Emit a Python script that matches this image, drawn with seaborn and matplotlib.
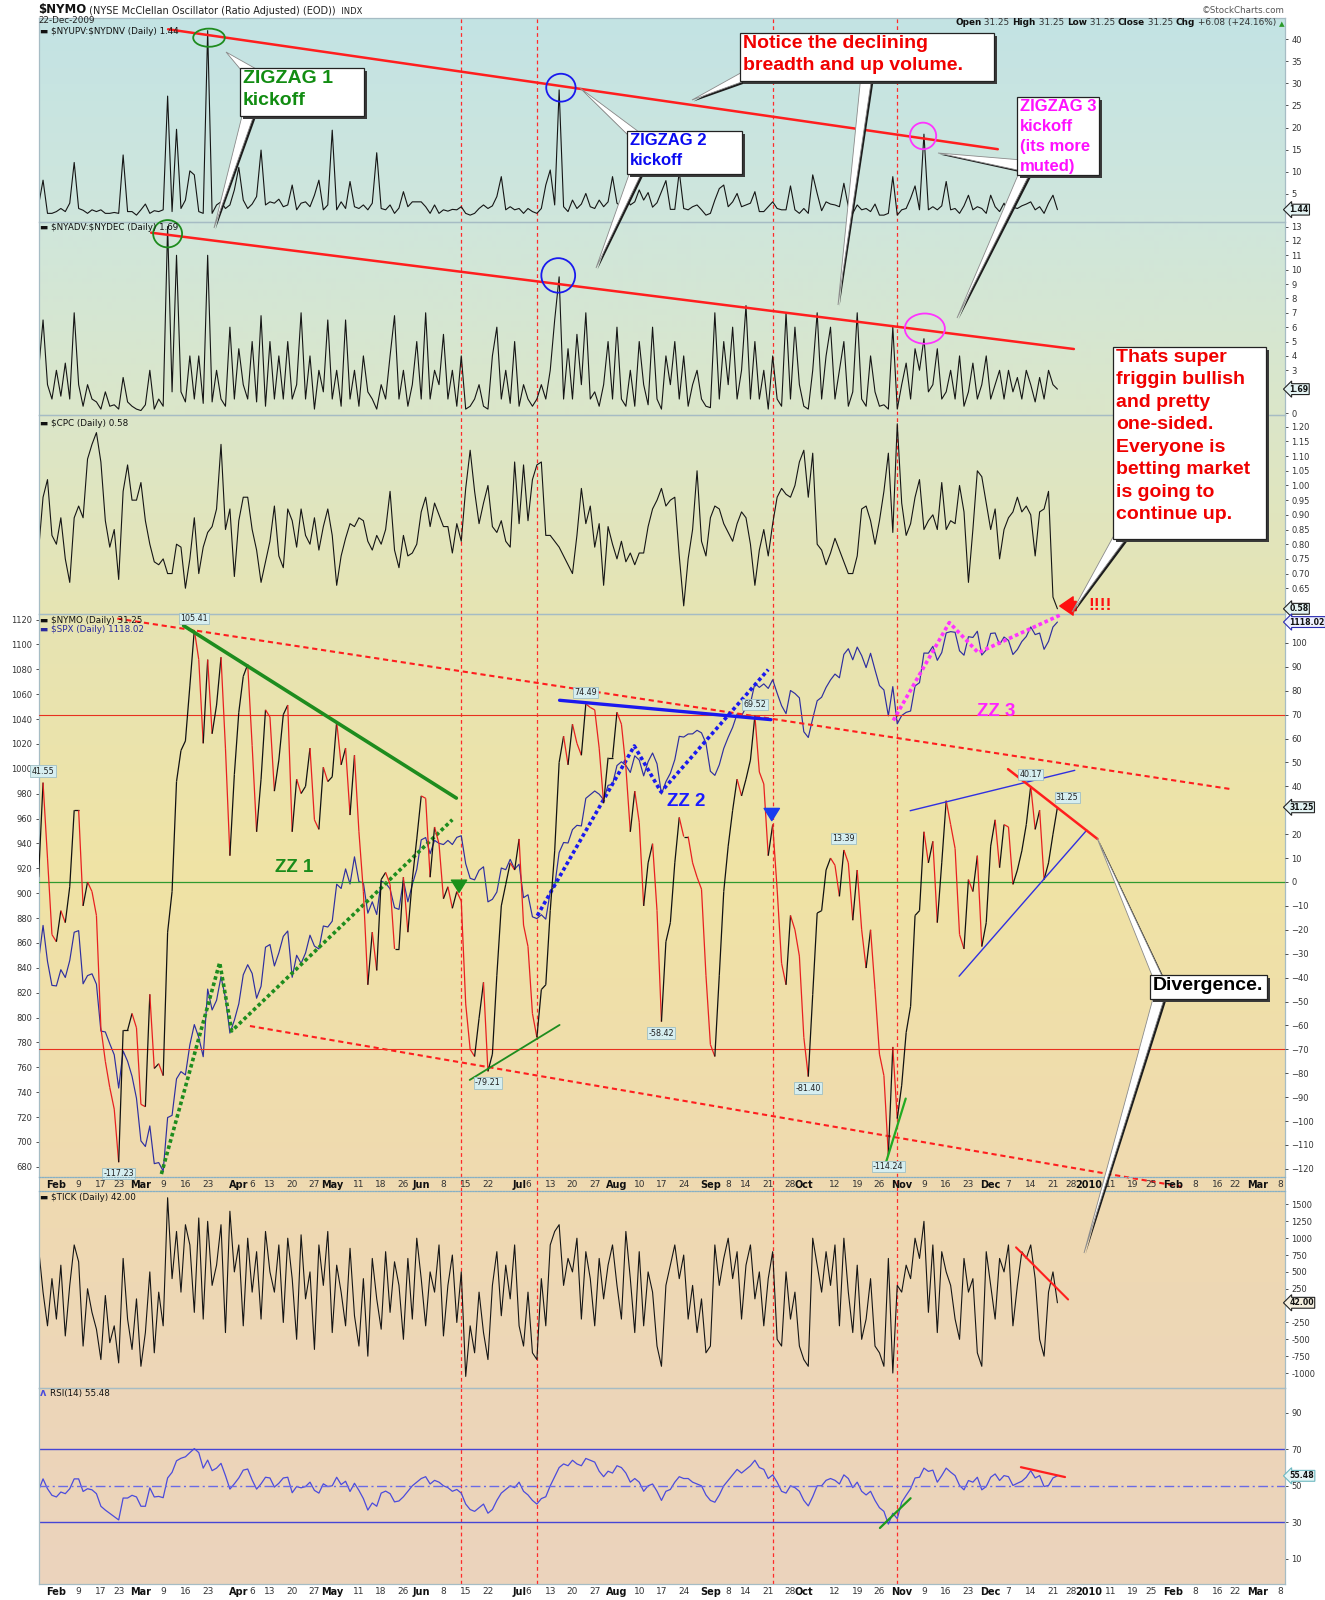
import numpy as np
import pandas as pd
import matplotlib
matplotlib.use("Agg")
import matplotlib.pyplot as plt
import seaborn as sns
from matplotlib.collections import LineCollection
from matplotlib.patches import Ellipse, Polygon, Rectangle
from matplotlib.colors import to_rgb

sns.set_style("white")
plt.rcParams["font.family"] = ["DejaVu Sans"]
plt.rcParams["text.parse_math"] = False

# ---------------- data (daily, 27-Jan-2009 .. 22-Dec-2009) ----------------
start_date = "2009-01-27"
holidays = ["2009-01-19", "2009-02-16", "2009-04-10", "2009-05-25", "2009-07-03",
            "2009-09-07", "2009-11-26", "2009-12-25", "2010-01-01", "2010-01-18",
            "2010-02-15"]

up_dn = [2.5, 8.1, 0.6, 0.6, 1.0, 1.7, 1.0, 2.9, 12.1, 1.7, 1.3,
         0.6, 1.4, 1.0, 1.4, 0.6, 0.6, 0.8, 0.6, 13.8, 1.0,
         1.0, 0.2, 1.4, 2.7, 0.6, 1.2, 1.0, 1.4, 27.1, 1.0,
         19.6, 1.7, 3.6, 10.2, 9.3, 1.0, 0.6, 41.9, 0.6, 2.5,
         3.2, 1.7, 2.5, 5.9, 11.0, 3.6, 1.7, 2.7, 4.4, 14.9,
         2.5, 3.2, 2.9, 3.8, 2.1, 2.5, 7.0, 1.4, 2.9, 3.2,
         2.1, 4.7, 8.1, 1.4, 2.5, 19.4, 1.4, 3.2, 1.7, 7.8,
         2.1, 1.7, 2.5, 1.4, 2.9, 14.3, 1.7, 1.4, 2.5, 0.6, 1.8,
         5.5, 2.1, 3.2, 3.2, 3.2, 2.1, 0.6, 2.5, 0.6, 1.4,
         1.1, 1.5, 1.4, 2.1, 0.6, 0.2, 0.6, 1.7, 2.5, 1.7,
         2.3, 4.4, 8.9, 1.4, 2.1, 1.4, 1.7, 0.6, 1.7, 1.0,
         0.6, 1.7, 7.0, 10.4, 2.5, 28.5, 2.1, 1.0, 3.6, 1.7,
         2.7, 5.1, 2.1, 1.7, 3.6, 2.1, 3.2, 8.9, 2.9, 2.1,
         4.4, 2.5, 3.2, 5.9, 3.6, 5.3, 2.0, 3.0,
         5.5, 8.0, 1.5, 1.5, 10.0, 1.7, 1.4, 2.1, 2.5, 1.4,
         0.2, 0.6, 3.6, 6.2, 7.0, 2.1, 3.2, 5.1, 2.1, 2.5,
         2.9, 5.5, 1.0, 1.0, 2.1, 3.2, 1.7, 1.4, 1.4, 6.8,
         1.4, 0.6, 1.7, 0.6, 9.3, 5.1, 1.2, 3.2, 2.7, 2.5,
         2.1, 7.4, 2.1, 0.6, 2.5, 1.4, 1.7, 1.0, 2.7, 0.2,
         0.2, 0.6, 8.9, 0.2, 1.4, 1.7, 4.0, 6.8, 1.4, 18.5,
         1.4, 2.1, 1.4, 2.3, 7.8, 1.4, 1.7, 0.6, 2.3, 4.7,
         1.4, 2.1, 1.7, 0.6, 4.7, 2.1, 1.0, 2.9, 0.6, 2.0,
         1.7, 2.3, 2.7, 3.2, 1.4, 2.1, 0.6, 2.9, 4.7, 1.44]

adv_dec = [3, 6.5, 2, 1, 3, 1.2, 3.5, 1, 7, 2,
           0.5, 2, 1, 0.8, 0.3, 1.5, 0.5, 0.6, 0.3, 2.5,
           0.8, 0.5, 0.3, 0.2, 0.6, 3, 0.3, 1, 0.5, 13,
           1.5, 11, 1.5, 0.8, 4, 1, 4, 0.7, 11, 0.8,
           3, 1, 0.5, 6, 1, 4.5, 2, 1, 5, 0.8,
           6.8, 0.5, 5, 1, 4, 1, 5, 1, 2, 7,
           1, 4, 0.3, 3, 1.5, 6.5, 1, 3, 0.5, 6.5,
           1, 3, 0.5, 4, 1.5, 1, 0.3, 2, 1, 4,
           6.8, 1, 3, 0.5, 2, 5, 1, 7, 1, 3,
           2, 5.5, 1, 3, 0.5, 4, 0.3, 0.5, 1, 2,
           0.5, 0.3, 4, 6, 1, 3, 0.7, 5, 0.5, 2,
           1, 0.5, 1, 2, 1, 3, 6.5, 9.5, 1, 4.5,
           1, 5.5, 2, 7, 1, 1.5, 0.5, 2, 5, 1,
           6, 1, 0.5, 3, 0.5, 5, 2, 0.6, 6, 1,
           0.3, 4, 2, 5, 1, 4, 0.5, 2, 3, 1,
           0.5, 0.4, 7, 1, 5, 2, 6, 1, 3, 7.5,
           1, 5, 1, 3, 0.3, 4, 1, 0.5, 7, 1,
           6, 2, 0.5, 0.3, 3, 7, 1, 4, 6, 1,
           3, 5, 0.5, 1.5, 7, 1, 0.5, 4, 1.5, 0.5,
           0.6, 0.3, 6, 0.3, 2, 3.5, 1, 4.5, 3, 5.2,
           1.5, 2, 4.5, 1, 1.5, 3, 1, 4, 0.5, 1.5,
           3.5, 1, 2, 4, 1, 2, 3, 1, 3, 1.5,
           2.5, 1, 3, 2, 0.8, 2.5, 1, 3, 2, 1.69]

cpc = [0.78, 0.96, 1.02, 0.83, 0.80, 0.89, 0.75, 0.67, 0.89, 0.93, 0.89, 1.09, 1.14,
       1.18, 1.08, 0.88, 0.79, 0.85, 0.68, 0.98, 1.07, 0.95, 0.95, 1.01, 0.88, 0.80,
       0.74, 0.73, 0.75, 0.70, 0.70, 0.80, 0.79, 0.65, 0.75, 0.89, 0.70, 0.79, 0.84,
       0.86, 0.92, 1.14, 0.85, 0.92, 0.69, 0.88, 0.96, 0.96, 0.85, 0.78, 0.67, 0.74,
       0.81, 0.93, 0.76, 0.72, 0.92, 0.88, 0.79, 0.92, 0.83, 0.80, 0.89, 0.78, 0.86,
       0.92, 0.83, 0.66, 0.76, 0.82, 0.87, 0.86, 0.89, 0.88, 0.81, 0.78, 0.83, 0.80,
       0.85, 0.98, 0.78, 0.72, 0.83, 0.76, 0.77, 0.80, 0.91, 0.96, 0.86, 0.94, 0.90,
       0.86, 0.86, 0.77, 0.87, 0.81, 0.99, 1.12, 0.98, 0.87, 0.94, 1.00, 0.86, 0.84,
       0.88, 0.81, 0.79, 1.08, 0.87, 1.07, 0.88, 1.02, 1.07, 1.08, 0.83, 0.83, 0.81,
       0.79, 0.76, 0.73, 0.70, 0.83, 0.99, 0.87, 0.93, 0.79, 0.87, 0.66, 0.86, 0.80,
       0.75, 0.81, 0.74, 0.77, 0.73, 0.77, 0.77, 0.86, 0.92, 0.95, 0.99, 0.93, 0.95,
       0.96, 0.76, 0.59, 0.75, 0.85, 1.05, 0.81, 0.76, 0.89, 0.93, 0.92, 0.87, 0.84,
       0.81, 0.87, 0.91, 0.89, 0.80, 0.66, 0.78, 0.85, 0.76, 0.87, 0.96, 0.99, 0.97,
       0.96, 1.00, 1.08, 1.12, 0.96, 1.11, 0.80, 0.78, 0.73, 0.77, 0.82, 0.78, 0.74,
       0.70, 0.70, 0.76, 0.92, 0.93, 0.88, 0.80, 0.88, 0.98, 1.11, 0.84,
       1.21, 0.94, 0.83, 0.87, 0.96, 1.02, 0.85, 0.88,
       0.90, 0.85, 1.01, 0.85, 0.88, 0.87, 1.00, 0.91, 0.67, 0.85, 1.05, 1.03, 0.94,
       0.85, 0.92, 0.75, 0.85, 0.89, 0.91, 0.96, 0.91, 0.93,
       0.90, 0.76, 0.91, 0.92, 0.98, 0.62, 0.58]

spx = [845.71, 874.09, 845.14, 825.88,
       825.44, 838.51, 832.23, 845.85, 868.60, 869.89, 827.16, 833.74, 835.19, 826.84,
       789.17, 788.42, 778.94, 770.05, 743.33, 773.14, 764.90, 752.83, 735.09,
       700.82, 696.33, 712.87, 682.55, 683.38, 676.53, 719.60, 721.36, 750.74, 756.55,
       753.89, 778.12, 794.35, 784.04, 768.54, 822.92, 806.12, 813.88, 832.86, 815.94,
       787.53, 797.87,
       811.08, 834.38, 842.50, 835.48, 815.55, 825.16, 856.56, 858.73, 841.50, 852.06,
       865.30, 869.60, 832.39, 850.08, 843.55, 851.92, 866.23, 857.51, 855.16, 873.64, 872.81,
       877.52, 907.24, 903.80, 919.53, 907.39, 929.23, 909.24, 908.35, 883.92, 893.07,
       882.88, 909.71, 908.13, 903.47, 888.33, 887.00, 910.33, 893.06, 906.83, 919.14,
       942.87, 944.74, 931.76, 942.46, 940.09, 939.14, 942.43, 939.15, 944.89, 946.21,
       923.72, 911.97, 910.71, 918.37, 921.23, 893.04, 895.10, 900.94, 920.26, 918.90,
       927.23, 919.32,
       923.33, 896.42, 898.72, 881.03, 879.56, 882.68, 879.13, 901.05, 905.84, 932.68,
       940.74, 940.38, 951.13, 954.58, 954.07, 976.29, 979.26, 982.18, 979.62, 975.15,
       986.75, 987.48,
       1002.63, 1005.65, 1002.72, 997.08, 1010.48, 1007.10, 994.35, 1005.81, 1012.73, 1004.09,
       979.73, 989.67, 996.46, 1007.37, 1026.13, 1025.57, 1028.00, 1028.12, 1030.98, 1028.93,
       1020.62,
       998.04, 994.75, 1003.24, 1016.40, 1025.39, 1033.37, 1044.14, 1042.73, 1049.34, 1052.63,
       1068.76, 1065.49, 1068.30, 1064.66, 1071.66, 1060.87, 1050.78, 1044.38, 1062.98, 1060.61,
       1057.08,
       1029.85, 1025.21, 1040.46, 1054.72, 1057.58, 1065.48, 1071.49, 1076.19, 1073.19, 1092.02,
       1096.56, 1087.68, 1097.91, 1091.06, 1081.40, 1092.91, 1079.60, 1066.95, 1063.41, 1042.63,
       1066.11, 1036.19,
       1042.88, 1045.41, 1046.50, 1066.63, 1069.30, 1093.08, 1093.01, 1098.51, 1087.24, 1093.48,
       1109.30, 1110.32, 1109.80, 1094.90, 1091.38, 1106.24, 1105.65, 1110.63, 1091.49, 1095.63,
       1108.86, 1109.24, 1099.92, 1105.98, 1103.25, 1091.94, 1095.95, 1102.35, 1106.41, 1114.11,
       1107.93, 1109.18, 1096.08, 1102.47, 1114.05, 1118.02]

nymo = [2, 41.55, 10, -22, -25, -12, -17, -2, 30, 30,
        -10, 0, -4, -14, -61, -75, -86, -95, -117.23, -62,
        -62, -55, -61, -93, -94, -47, -78, -76, -81, -21,
        -4, 42, 55, 59, 82, 105.41, 93, 58, 93, 62,
        74, 94, 56, 11, 45, 71, 86, 91, 57, 21,
        43, 72, 69, 38, 51, 70, 74, 21, 43, 37,
        40, 56, 26, 22, 48, 42, 44, 67, 49, 56,
        28, 53, 21, -4, -43, -21, -37, 1, 4, -1,
        -28, -28, 2, -21, 1, 18, 36, 35, 2, 23,
        16, -7, -2, -11, -4, -8, -51, -70, -73, -57,
        -42, -79.21, -72, -39, -10, -1, 8, 5, 18, -18,
        -27, -55, -65, -45, -43, -12, 13, 50, 61, 49,
        66, 58, 53, 74.49, 73, 72, 56, 33, 52, 52,
        71, 66, 48, 21, 38, 25, -10, 8, 16, -12,
        -58.42, -25, -17, 8, 27, 19, 19, 8, 2, -3,
        -39, -68, -73, -39, -4, 15, 30, 43, 36, 43,
        51, 69.52, 46, 41, 11, 24, -3, -34, -43, -14,
        -20, -31, -65, -81.40, -47, -13, -12, 5, 10, 7,
        -6, 13.39, 8, -16, 5, -20, -36, -20, -45, -72,
        -81, -114.24, -69, -99, -85, -63, -52, -14, -12, 21,
        8, 17, -17, 8, 34, 24, 14, -22, -28, 1,
        -4, 11, -27, -17, 15, 26, 6, 24, 23, -1,
        5, 13, 24, 40.17, 22, 30, 1, 8, 20, 31.25]

tick = [850, 200, -300, 400, -200, 600, -450, 300, 900, 650,
        -600, 250, -100, -350, -800, 150, -550, -300, -850, 700,
        -200, -650, 100, -900, -400, 500, -700, 200, -300, 1600,
        400, 1100, 200, 1200, 900, -100, 1300, -200, 1250, 300,
        600, 1200, -400, 1400, 500, 900, -300, 1000, 200, 800,
        -200, 1100, 500, 200, 900, -250, 1000, 400, -500, 1050,
        100, 500, -650, 900, 300, 1100, -400, 600, 200, -300,
        850, -150, -600, 400, -750, 700, 100, -350, 800, -100,
        650, 300, -500, 700, -200, 1000, 400, -300, 500, 200,
        900, -450, 300, 750, -250, 500, -1050, -300, -700, 200,
        -400, -800, 300, 800, -150, 600, 100, 900, -300, -600,
        200, -700, -800, 400, -300, 900, 1100, 1200, 300, 700,
        500, 1000, -200, 800, 400, -300, 700, 100, 600, 900,
        300, -200, 1100, 400, -400, 800, -300, 500, 200, -600,
        -900, 300, 600, 900, 400, 750, -200, 300, -400, 100,
        -700, -600, 900, 300, 700, 1000, 400, 800, -200, 600,
        900, 100, 500, -300, 400, 800, -500, -600, 500, -200,
        200, -600, -800, -900, 1000, 600, 200, 800, 300, 900,
        -300, 1000, 200, -400, 600, -500, -200, 400, -600, -700,
        -900, 700, -1000, 300, 200, 600, 400, 1000, 700, 1250,
        -100, 900, -400, 800, 500, 300, -200, -500, 700, 200,
        400, -700, -900, 800, 300, -200, 700, 500, 900, -300,
        300, 800, 700, 900, 400, -500, -750, 200, 500, 42]

rsi = [47.5, 53.8, 48.4, 44.8, 43.9, 46.6, 45.7, 48.4, 53.8, 53.8,
       46.9, 48.4, 47.8, 45.7, 38.8, 36.7, 34.9, 33.1, 31.3, 43.3,
       43.3, 44.8, 43.9, 38.8, 38.8, 48.9, 43.9, 44.2, 43.5, 54.3,
       57.4, 63.7, 65.1, 65.9, 68.2, 70.4, 68.2, 59.7, 64.1, 58.3,
       59.7, 62.3, 55.6, 48.2, 51.1, 54.3, 58.6, 59.2, 53.2, 48.2,
       51.1, 54.7, 54.3, 49.3, 51.4, 54.3, 54.7, 46.2, 49.6, 48.9,
       49.6, 52.0, 47.5, 46.0, 51.1, 49.6, 50.0, 54.7, 50.7, 52.5,
       46.9, 51.4, 47.5, 43.0, 36.7, 40.6, 38.8, 46.0, 47.1, 45.7,
       41.2, 41.7,
       44, 47, 50, 52, 54, 55, 51, 53, 52, 50,
       49, 47, 48, 46, 40, 37, 36, 38, 40, 35,
       37, 42, 46, 48, 50, 49, 52, 47, 45, 42,
       40, 43, 44, 50, 55, 60, 62, 61, 64, 62,
       61, 65, 64, 63, 58, 55, 58, 57, 61, 60,
       57, 52, 54, 52, 47, 50, 51, 47, 42, 47,
       48, 52, 55, 54, 54, 52, 51, 50, 45, 42,
       41, 45, 50, 53, 56, 59, 57, 59, 61, 64,
       60, 59, 54, 56, 52, 47, 46, 50, 49, 47,
       42, 39, 44, 50, 50, 53, 54, 53, 51, 56,
       54, 49, 52, 47, 45, 47, 42, 38, 36, 29, 35, 32,
       41, 44.8, 48.4, 54.3, 54.7, 59.7, 57.9, 58.6, 52, 55.6,
       59.7, 57.5, 55.6, 50.2, 47.8, 52.9, 52, 54.7, 47.8, 49.6,
       54.7, 56.5, 52.9, 55.6, 55, 50.2, 51.4, 52.5, 54.7, 58.3,
       54.3, 55.6, 49.6, 50.2, 54.3, 55.48]

tick_dates = ["2009-02-02", "2009-02-09", "2009-02-17", "2009-02-23", "2009-03-02", "2009-03-09",
              "2009-03-16", "2009-03-23", "2009-04-01", "2009-04-06", "2009-04-13", "2009-04-20",
              "2009-04-27", "2009-05-01", "2009-05-11", "2009-05-18", "2009-05-26", "2009-06-01",
              "2009-06-08", "2009-06-15", "2009-06-22", "2009-07-01", "2009-07-06", "2009-07-13",
              "2009-07-20", "2009-07-27", "2009-08-03", "2009-08-10", "2009-08-17", "2009-08-24",
              "2009-09-01", "2009-09-08", "2009-09-14", "2009-09-21", "2009-09-28", "2009-10-01",
              "2009-10-12", "2009-10-19", "2009-10-26", "2009-11-02", "2009-11-09", "2009-11-16",
              "2009-11-23", "2009-12-01", "2009-12-07", "2009-12-14", "2009-12-21", "2009-12-28",
              "2010-01-04", "2010-01-11", "2010-01-19", "2010-01-25", "2010-02-01", "2010-02-08",
              "2010-02-16", "2010-02-22", "2010-03-01", "2010-03-08"]
tick_text = ["Feb", "9", "17", "23", "Mar", "9", "16", "23", "Apr", "6", "13", "20", "27", "May",
             "11", "18", "26", "Jun", "8", "15", "22", "Jul", "6", "13", "20", "27", "Aug", "10",
             "17", "24", "Sep", "8", "14", "21", "28", "Oct", "12", "19", "26", "Nov", "9", "16",
             "23", "Dec", "7", "14", "21", "28", "2010", "11", "19", "25", "Feb", "8", "16", "22",
             "Mar", "8"]

vline_dates = ["2009-06-12", "2009-07-08", "2009-09-22", "2009-10-30"]

tag_dates = ["2009-01-28", "2009-03-18", "2009-02-23", "2009-06-22", "2009-07-23", "2009-09-16",
             "2009-08-17", "2009-10-02", "2009-10-14", "2009-10-28", "2009-12-14"]

# ---------------- calendar ----------------
cal = pd.bdate_range("2009-01-02", "2010-03-31", freq="C", holidays=holidays)


def day(s):
    return cal.get_loc(pd.Timestamp(s))


start = day(start_date)


def xs(vals):
    return np.arange(start, start + len(vals))


W, H = 1325, 1600
PX_DAY = 4.449
X0, X1 = 38.6, 1285
XL = (start, start + (X1 - X0) / PX_DAY)


def rect(x0, y0, x1, y1):
    return [x0 / W, 1 - y1 / H, (x1 - x0) / W, (y1 - y0) / H]


fig = plt.figure(figsize=(W / 100, H / 100), dpi=100)
fig.patch.set_facecolor("white")

# background gradient
stops_y = [18, 215, 415, 610, 880, 1175, 1390, 1584]
stops_c = ["#c3e3e4", "#cfe6dc", "#dbe6c9", "#e6e4b3", "#f0e3a5", "#efdab0", "#edd6b8", "#ebd3bd"]
yy = np.arange(18, 1585)
rgb = np.array([to_rgb(c) for c in stops_c])
grad = np.stack([np.interp(yy, stops_y, rgb[:, k]) for k in range(3)], axis=1)[:, None, :]
bg = fig.add_axes(rect(X0, 18.4, X1, 1584), zorder=-5)
bg.imshow(grad, aspect="auto", extent=(0, 1, 1, 0))
bg.axis("off")

SP = "#a6bcc4"
TC = "#333333"


def make_panel(y0, y1, ylim, yt, fmt="{:g}", right=True):
    ax = fig.add_axes(rect(X0, y0, X1, y1))
    ax.set_facecolor("none")
    for s in ax.spines.values():
        s.set_color(SP)
        s.set_linewidth(0.9)
    ax.set_xlim(XL)
    ax.set_ylim(ylim)
    ax.set_xticks([])
    if right:
        ax.yaxis.tick_right()
    ax.set_yticks(yt)
    ax.set_yticklabels([fmt.format(v) for v in yt])
    ax.tick_params(axis="y", labelsize=6, colors=TC, length=2.5, pad=2, width=0.6)
    return ax


# tick labels that sit under the last-value tags are left out, as on the original
ax1 = make_panel(18.4, 221.5, (-1.24, 44.66), list(range(5, 41, 5)))
ax2 = make_panel(221.5, 415, (-0.11, 13.35), [0] + list(range(3, 14)))
ax3 = make_panel(415, 613.5, (0.564, 1.240), [round(0.65 + 0.05 * k, 2) for k in range(12)], "{:.2f}")
ax4 = make_panel(613.5, 1177, (671.8, 1124.9), list(range(680, 1121, 20)), right=False)
ax4r = ax4.twinx()
ax4r.set_ylim(-123.4, 112.3)
ax4r.set_xlim(XL)
ax4r.set_yticks([v for v in range(-120, 101, 10) if v != 30])
ax4r.tick_params(axis="y", labelsize=6, colors=TC, length=2.5, pad=2, width=0.6)
for s in ax4r.spines.values():
    s.set_visible(False)
ax5 = make_panel(1191, 1388, (-1222, 1700), [v for v in range(-1000, 1501, 250) if v != 0])
ax6 = make_panel(1388, 1584, (-3.8, 103.6), [10, 30, 50, 70, 90])

strip = fig.add_axes(rect(X0, 1177, X1, 1191))
strip.set_facecolor("none")
strip.set_xlim(XL)
strip.set_ylim(0, 1)
strip.set_xticks([])
strip.set_yticks([])
for k in ["top", "bottom"]:
    strip.spines[k].set_linestyle((0, (1, 1.5)))
    strip.spines[k].set_color("#86b0c4")
for k in ["left", "right"]:
    strip.spines[k].set_color(SP)

bottom = fig.add_axes(rect(X0, 1584, X1, 1600))
bottom.set_xlim(XL)
bottom.set_ylim(0, 1)
bottom.axis("off")

# vertical dashed marker lines
for ax in [ax1, ax2, ax3, ax4, strip, ax5, ax6]:
    for d in vline_dates:
        ax.axvline(day(d), color="#ff2a2a", lw=0.9, ls=(0, (3, 2.5)), zorder=1)

# date labels
for ax, yc in [(strip, 0.45), (bottom, 0.5)]:
    for d, t in zip(tick_dates, tick_text):
        bold = not t.isdigit() or t == "2010"
        ax.text(day(d), yc, t, ha="center", va="center", fontsize=7 if bold else 6.5,
                fontweight="bold" if bold else "normal", color="#111" if bold else "#333")

# ---------------- series ----------------
sns.lineplot(x=xs(up_dn), y=up_dn, ax=ax1, color="#151515", linewidth=0.8, legend=False, estimator=None)
sns.lineplot(x=xs(adv_dec), y=adv_dec, ax=ax2, color="#151515", linewidth=0.8, legend=False, estimator=None)
sns.lineplot(x=xs(cpc), y=cpc, ax=ax3, color="#151515", linewidth=0.8, legend=False, estimator=None)
sns.lineplot(x=xs(spx), y=spx, ax=ax4, color="#2e2ea0", linewidth=0.85, legend=False, estimator=None)
sns.lineplot(x=xs(tick), y=tick, ax=ax5, color="#151515", linewidth=0.8, legend=False, estimator=None)
sns.lineplot(x=xs(rsi), y=rsi, ax=ax6, color="#4b4bdc", linewidth=0.9, legend=False, estimator=None)

ny = np.array(nymo, dtype=float)
pts = np.column_stack([xs(nymo), ny])
segs = np.stack([pts[:-1], pts[1:]], axis=1)
cols = ["#e82020" if ny[i + 1] < ny[i] else "#111111" for i in range(len(ny) - 1)]
ax4r.add_collection(LineCollection(segs, colors=cols, linewidths=0.9, zorder=3))

for ax in [ax1, ax2, ax3, ax4, ax4r, ax5, ax6]:
    ax.set_xlim(XL)
    ax.set_xlabel("")
    ax.set_ylabel("")
ax1.set_ylim(-1.24, 44.66)
ax2.set_ylim(-0.11, 13.35)
ax3.set_ylim(0.564, 1.240)
ax4.set_ylim(671.8, 1124.9)
ax5.set_ylim(-1222, 1700)
ax6.set_ylim(-3.8, 103.6)

# reference lines
ax4r.axhline(70, color="#e8301e", lw=0.8, zorder=1)
ax4r.axhline(-70, color="#e8301e", lw=0.8, zorder=1)
ax4r.axhline(0, color="#2f9a2f", lw=0.9, zorder=1)
ax6.axhline(70, color="#4545d5", lw=1.0)
ax6.axhline(30, color="#4545d5", lw=1.0)
ax6.axhline(50, color="#6a6ae6", lw=1.0, ls=(0, (7, 2.5, 1.5, 2.5)))

# value tags on NYMO extremes
for d in tag_dates:
    i = day(d)
    v = nymo[i - start]
    up = v > 0
    ax4r.annotate(f"{v:.2f}", xy=(i, v), xytext=(0, 5 if up else -5), textcoords="offset points",
                  ha="center", va="bottom" if up else "top", fontsize=5.8, color="#222",
                  bbox=dict(boxstyle="square,pad=0.15", fc="#d6eef0", ec="#9fbfc5", lw=0.6), zorder=8)
ax4r.annotate(f"{nymo[-1]:.2f}", xy=(xs(nymo)[-1], nymo[-1]), xytext=(7, 4), textcoords="offset points",
              ha="center", va="bottom", fontsize=5.8, color="#222",
              bbox=dict(boxstyle="square,pad=0.15", fc="#d6eef0", ec="#9fbfc5", lw=0.6), zorder=8)

# right-edge last value tags
for ax, v, txt, ec, fc in [(ax1, up_dn[-1], f"{up_dn[-1]:.2f}", "#222", "#e4f4f4"),
                           (ax2, adv_dec[-1], f"{adv_dec[-1]:.2f}", "#222", "#e4f4f4"),
                           (ax3, cpc[-1], f"{cpc[-1]:.2f}", "#222", "#e4f4f4"),
                           (ax4, spx[-1], f"{spx[-1]:.2f}", "#2a2ab0", "#eef0ff"),
                           (ax4r, nymo[-1], f"{nymo[-1]:.2f}", "#222", "#e4f4f4"),
                           (ax5, tick[-1], f"{tick[-1]:.2f}", "#222", "#f6f0e0"),
                           (ax6, rsi[-1], f"{rsi[-1]:.2f}", "#6cb8c0", "#e6f6f6")]:
    ax.annotate(txt, xy=(1.0, v), xycoords=ax.get_yaxis_transform(), xytext=(3, 0),
                textcoords="offset points", ha="left", va="center", fontsize=5.6, fontweight="bold",
                color="#111", annotation_clip=False, zorder=9,
                bbox=dict(boxstyle="larrow,pad=0.12", fc=fc, ec=ec, lw=0.8))

# ---------------- hand drawn annotations ----------------
RED, GRN, BLU, MAG = "#ff1e1e", "#1e8c1e", "#1a1aee", "#ff33ff"
ax1.plot([45.1, 231.6], [42.2, 15.1], color=RED, lw=1.8, zorder=4)
ax1.add_patch(Ellipse((54.3, 40.3), 7.1, 4.1, fill=False, ec=GRN, lw=1.3, zorder=5))
ax1.add_patch(Ellipse((133.4, 29.0), 6.6, 6.3, fill=False, ec=BLU, lw=1.3, zorder=5))
ax1.add_patch(Ellipse((214.8, 18.1), 5.9, 6.0, fill=False, ec=MAG, lw=1.3, zorder=5))

ax2.plot([41.3, 248.7], [12.57, 4.48], color=RED, lw=1.8, zorder=4)
ax2.add_patch(Ellipse((45.0, 12.5), 6.5, 1.9, fill=False, ec=GRN, lw=1.3, zorder=5, clip_on=False))
ax2.add_patch(Ellipse((132.8, 9.6), 7.6, 2.4, fill=False, ec=BLU, lw=1.3, zorder=5))
ax2.add_patch(Ellipse((215.2, 5.9), 9.0, 2.1, fill=False, ec=MAG, lw=1.3, zorder=5))

ax4.plot([33.7, 283.8], [1120.8, 983.8], color=RED, lw=1.5, ls=(0, (2.5, 1.8)), zorder=4)
ax4.plot([63.5, 273.5], [793.2, 663.7], color=RED, lw=1.5, ls=(0, (2.5, 1.8)), zorder=4, clip_on=False)
ax4.plot([43.6, 56.7, 59.4, 109.0], [674.2, 844.2, 789.2, 959.1], color=GRN, lw=2.6, ls=(0, (1, 0.8)), zorder=4)
ax4.plot([128.1, 149.9, 155.9, 180.0], [882.0, 1018.4, 981.4, 1079.8], color=BLU, lw=2.6, ls=(0, (1, 0.8)), zorder=4)
ax4.plot([208.1, 220.7, 227.2, 246.0], [1038.9, 1117.6, 1093.4, 1124.3], color=MAG, lw=2.6, ls=(0, (1, 0.8)), zorder=4)
ax4r.plot([48.6, 109.9], [107.2, 35.1], color=GRN, lw=2.6, zorder=5)
ax4r.plot([112.9, 133.1], [-82.8, -59.8], color=GRN, lw=1.3, zorder=5)
ax4r.plot([206.2, 210.9], [-118.9, -90.6], color="#22aa22", lw=1.6, zorder=5)
ax4r.plot([133.1, 180.6], [76.0, 67.9], color=BLU, lw=2.4, zorder=5)
ax4r.plot([211.9, 248.9], [29.8, 46.7], color="#3030e0", lw=1.0, zorder=5)
ax4r.plot([222.9, 251.6], [-39.4, 21.7], color="#3030e0", lw=1.0, zorder=5)
ax4r.plot([233.9, 254.0], [47.2, 18.0], color=RED, lw=1.8, zorder=5)
ax4r.annotate("", xy=(110.5, -5.5), xytext=(110.5, 0.5),
              arrowprops=dict(arrowstyle="simple,head_width=1.0,head_length=0.8,tail_width=0.5",
                              fc="#1a901a", ec="#1a901a", mutation_scale=11), zorder=7)
ax4r.annotate("", xy=(180.8, 24.5), xytext=(180.8, 30.5),
              arrowprops=dict(arrowstyle="simple,head_width=1.0,head_length=0.8,tail_width=0.5",
                              fc="#1a3cf0", ec="#1a3cf0", mutation_scale=11), zorder=7)

ax5.plot([235.7, 247.4], [864, 91], color=RED, lw=1.5, zorder=4)
ax6.plot([236.8, 246.7], [60.2, 54.8], color=RED, lw=1.6, zorder=4)
ax6.plot([205.1, 212.0], [26.9, 43.2], color="#1e9a1e", lw=1.6, zorder=4)

# ---------------- overlay: titles, callouts ----------------
ov = fig.add_axes([0, 0, 1, 1], zorder=20)
ov.set_xlim(0, W)
ov.set_ylim(H, 0)
ov.axis("off")
ov.patch.set_alpha(0)

t = ov.text(38, 13, "$NYMO", fontsize=8.5, fontweight="bold", color="#111", va="baseline")
t = ov.annotate(" (NYSE McClellan Oscillator (Ratio Adjusted) (EOD))", xy=(1, 0), xycoords=t,
                fontsize=7, color="#222", va="bottom", ha="left")
ov.annotate("  INDX", xy=(1, 0), xycoords=t, fontsize=6, color="#222", va="bottom", ha="left")
ov.text(38, 23, "22-Dec-2009", fontsize=6.3, color="#222", va="baseline")
ov.text(1285, 13, "\u00a9StockCharts.com", fontsize=6.3, color="#555", ha="right", va="baseline")

# OHLC header, built right to left so that it ends on the plot's right edge
pieces = [("Open", "bold", "#111"), (" 31.25 ", "normal", "#333"), ("High", "bold", "#111"),
          (" 31.25 ", "normal", "#333"), ("Low", "bold", "#111"), (" 31.25 ", "normal", "#333"),
          ("Close", "bold", "#111"), (" 31.25 ", "normal", "#333"), ("Chg", "bold", "#111"),
          (" +6.08 (+24.16%) ", "normal", "#333"), ("\u25b2", "normal", "#2a9a2a")]
s, w, c = pieces[-1]
t = ov.text(1285, 26, s, fontsize=5.2, color=c, ha="right", va="baseline")
for s, w, c in reversed(pieces[:-1]):
    t = ov.annotate(s, xy=(0, 0), xycoords=t, fontsize=6.4, fontweight=w, color=c,
                    va="bottom", ha="right")

for y, s, c in [(31, "\u25ac $NYUPV:$NYDNV (Daily) 1.44", "#111"),
                (228, "\u25ac $NYADV:$NYDEC (Daily) 1.69", "#111"),
                (424, "\u25ac $CPC (Daily) 0.58", "#111"),
                (620.5, "\u25ac $NYMO (Daily) 31.25", "#111"),
                (629.5, "\u25ac $SPX (Daily) 1118.02", "#2a2a9c"),
                (1197, "\u25ac $TICK (Daily) 42.00", "#111"),
                (1393.5, "RSI(14) 55.48", "#111")]:
    ov.text(40 if not s.startswith("RSI") else 50, y, s, fontsize=6.3, color=c, va="center", ha="left")
ov.text(40, 1393.5, "\u028c", fontsize=7, color="#4b4bdc", va="center", ha="left", fontweight="bold")

CF = ["Liberation Sans", "DejaVu Sans"]
ov.text(294, 868, "ZZ 1", fontsize=13.5, fontweight="bold", color="#1a8c1a", family=CF, ha="center", va="center")
ov.text(686, 802, "ZZ 2", fontsize=13.5, fontweight="bold", color="#1a1aff", family=CF, ha="center", va="center")
ov.text(996, 711, "ZZ 3", fontsize=13.5, fontweight="bold", color="#ff22ff", family=CF, ha="center", va="center")

ov.annotate("", xy=(1057, 606), xytext=(1079, 606),
            arrowprops=dict(arrowstyle="simple,head_width=1.1,head_length=0.8,tail_width=0.55",
                            fc="#ff1010", ec="#ff1010", mutation_scale=12))
ov.text(1088, 605, "!!!!", fontsize=12.5, fontweight="bold", color="#ff1010", family=CF, va="center")


def pointer(b1, b2, tip):
    ov.add_patch(Polygon([(b1[0] + 2, b1[1] + 2), (b2[0] + 2, b2[1] + 2), (tip[0] + 1.5, tip[1] + 1.5)],
                         closed=True, fc="#1c1c1c", ec="none", zorder=3))
    ov.add_patch(Polygon([b1, b2, tip], closed=True, fc="white", ec="#8a8a8a", lw=0.6, zorder=4))


callouts = [
    ((240, 68, 364, 116), "ZIGZAG 1\nkickoff", "#118c11", 14,
     [((246, 76), (258, 70), (226, 52)), ((244, 108), (255, 112), (214, 228))]),
    ((627, 131, 742, 174), "ZIGZAG 2\nkickoff", "#0a0af0", 12,
     [((633, 140), (643, 135), (580, 88)), ((632, 166), (643, 170), (596, 268))]),
    ((740, 33, 994, 81), "Notice the declining\nbreadth and up volume.", "#f00000", 14,
     [((746, 70), (758, 76), (692, 100)), ((861, 75), (872, 76), (838, 305))]),
    ((1017, 97, 1099, 175), "ZIGZAG 3\nkickoff\n(its more\nmuted)", "#ff10ff", 12,
     [((1022, 160), (1022, 171), (938, 153)), ((1021, 168), (1031, 171), (957, 318))]),
    ((1113, 347, 1266, 539), "Thats super\nfriggin bullish\nand pretty\none-sided.\nEveryone is\n"
     "betting market\nis going to\ncontinue up.", "#f00000", 14,
     [((1118, 528), (1130, 533), (1072, 612))]),
    ((1150, 975, 1267, 999), "Divergence.", "#000000", 14,
     [((1155, 983), (1163, 978), (1097, 838)), ((1155, 991), (1165, 996), (1084, 1253))]),
]
for (x0, y0, x1, y1), txt, col, fs, ptrs in callouts:
    for b1, b2, tip in ptrs:
        pointer(b1, b2, tip)
    ov.add_patch(Rectangle((x0 + 3, y0 + 3), x1 - x0, y1 - y0, fc="#3a3a3a", ec="none", zorder=5))
    ov.add_patch(Rectangle((x0, y0), x1 - x0, y1 - y0, fc="white", ec="#222", lw=0.9, zorder=6))
    ov.text(x0 + 3, y0 + 2, txt, fontsize=fs, fontweight="bold", color=col, family=CF,
            ha="left", va="top", linespacing=1.42, zorder=7)

fig.savefig("out.png", dpi=100, facecolor="white")
